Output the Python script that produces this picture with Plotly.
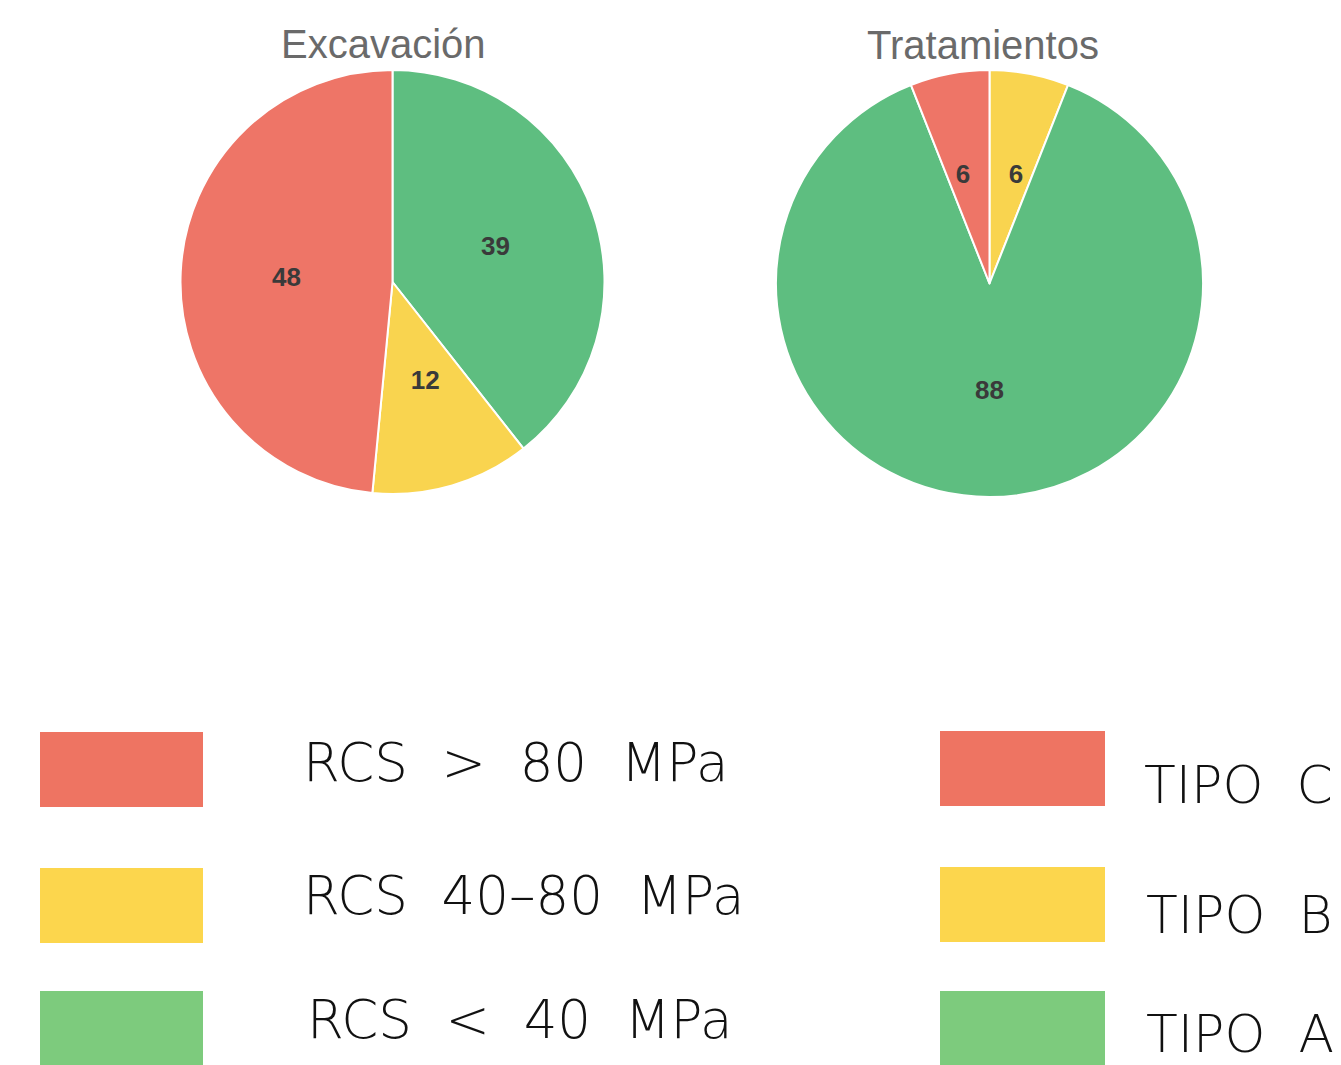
import plotly.graph_objects as go

W, H = 1341, 1065

# ---------------- data ----------------
# slices listed clockwise from 12 o'clock, as they appear in the chart
exc_title = "Excavación"
exc_labels = ["RCS < 40 MPa", "RCS 40–80 MPa", "RCS > 80 MPa"]
exc_values = [39, 12, 48]

trat_title = "Tratamientos"
trat_labels = ["TIPO B", "TIPO A", "TIPO C"]
trat_values = [6, 88, 6]

legend_left = ["RCS > 80 MPa", "RCS 40–80 MPa", "RCS < 40 MPa"]
legend_right = ["TIPO C", "TIPO B", "TIPO A"]

# ---------------- styles ----------------
PIE_RED, PIE_YEL, PIE_GRN = "#EE7567", "#F9D44F", "#5EBE80"
LEG_RED, LEG_YEL, LEG_GRN = "#EE7462", "#FCD64D", "#7DCB7D"
exc_colors = [PIE_GRN, PIE_YEL, PIE_RED]
trat_colors = [PIE_YEL, PIE_GRN, PIE_RED]
leg_colors = [LEG_RED, LEG_YEL, LEG_GRN]

# invisible padding (blank lines / spaces) nudges some slice labels to where the
# reference shows them
NB = "\u00a0"
BL = NB + "<br>"
exc_templates = ["%{value}", "%{value}" + NB * 3 + ("<br>" + NB) * 3, "%{value}"]
trat_templates = [BL * 4 + "%{value}" + NB * 2, "%{value}", BL * 4 + NB * 2 + "%{value}"]


def px(x):
    return x / W


def py(y):
    return 1 - y / H


label_font = dict(family="Liberation Sans, Arial", size=26, color="#3a3a3a", weight="bold")

fig = go.Figure()
fig.add_trace(go.Pie(
    labels=exc_labels, values=exc_values, sort=False, direction="clockwise",
    rotation=0, marker=dict(colors=exc_colors, line=dict(color="white", width=2)),
    texttemplate=exc_templates, textposition="inside", insidetextorientation="horizontal",
    textfont=label_font, showlegend=False, hoverinfo="label+value",
    domain=dict(x=[px(178), px(607)], y=[py(494), py(70)]),
))
fig.add_trace(go.Pie(
    labels=trat_labels, values=trat_values, sort=False, direction="clockwise",
    rotation=0, marker=dict(colors=trat_colors, line=dict(color="white", width=2)),
    texttemplate=trat_templates, textposition="inside", insidetextorientation="horizontal",
    textfont=label_font, showlegend=False, hoverinfo="label+value",
    domain=dict(x=[px(775), px(1204)], y=[py(497), py(70)]),
))

annotations = []
shapes = []

title_font = dict(family="Liberation Sans, Arial", size=40, color="#6a6a6a")
annotations.append(dict(text=exc_title, x=px(383), y=py(44), xref="paper", yref="paper",
                        xanchor="center", yanchor="middle", showarrow=False, font=title_font))
annotations.append(dict(text=trat_title, x=px(983), y=py(45), xref="paper", yref="paper",
                        xanchor="center", yanchor="middle", showarrow=False, font=title_font))

# custom legend blocks
left_rows = [(732, 807), (868, 943), (991, 1075)]
left_text = [(301, 762), (301, 895), (305, 1020)]
right_rows = [(731, 806), (867, 942), (991, 1075)]
right_text = [(1143, 785), (1145, 915), (1145, 1034)]

leg_font_l = dict(family="DejaVu Sans", size=53, color="#111111", weight=200)
leg_font_r = dict(family="DejaVu Sans", size=52, color="#111111", weight=200)

for i, lab in enumerate(legend_left):
    y0, y1 = left_rows[i]
    shapes.append(dict(type="rect", xref="paper", yref="paper", x0=px(40), x1=px(203),
                       y0=py(y1), y1=py(y0), fillcolor=leg_colors[i], line=dict(width=0)))
    tx, ty = left_text[i]
    annotations.append(dict(text=lab.replace(" ", NB * 2), x=px(tx), y=py(ty),
                            xref="paper", yref="paper", xanchor="left", yanchor="middle",
                            showarrow=False, font=leg_font_l))

for i, lab in enumerate(legend_right):
    y0, y1 = right_rows[i]
    shapes.append(dict(type="rect", xref="paper", yref="paper", x0=px(940), x1=px(1105),
                       y0=py(y1), y1=py(y0), fillcolor=leg_colors[i], line=dict(width=0)))
    tx, ty = right_text[i]
    annotations.append(dict(text=lab.replace(" ", NB * 2), x=px(tx), y=py(ty),
                            xref="paper", yref="paper", xanchor="left", yanchor="middle",
                            showarrow=False, font=leg_font_r, borderpad=0))

fig.update_layout(
    width=W, height=H, margin=dict(l=0, r=0, t=0, b=0),
    paper_bgcolor="white", plot_bgcolor="white",
    annotations=annotations, shapes=shapes,
    uniformtext=dict(minsize=26, mode="show"),
)

fig.write_html("out.html", config={"displayModeBar": False},
               post_script="document.body.style.margin='0';document.body.style.overflow='hidden';")
